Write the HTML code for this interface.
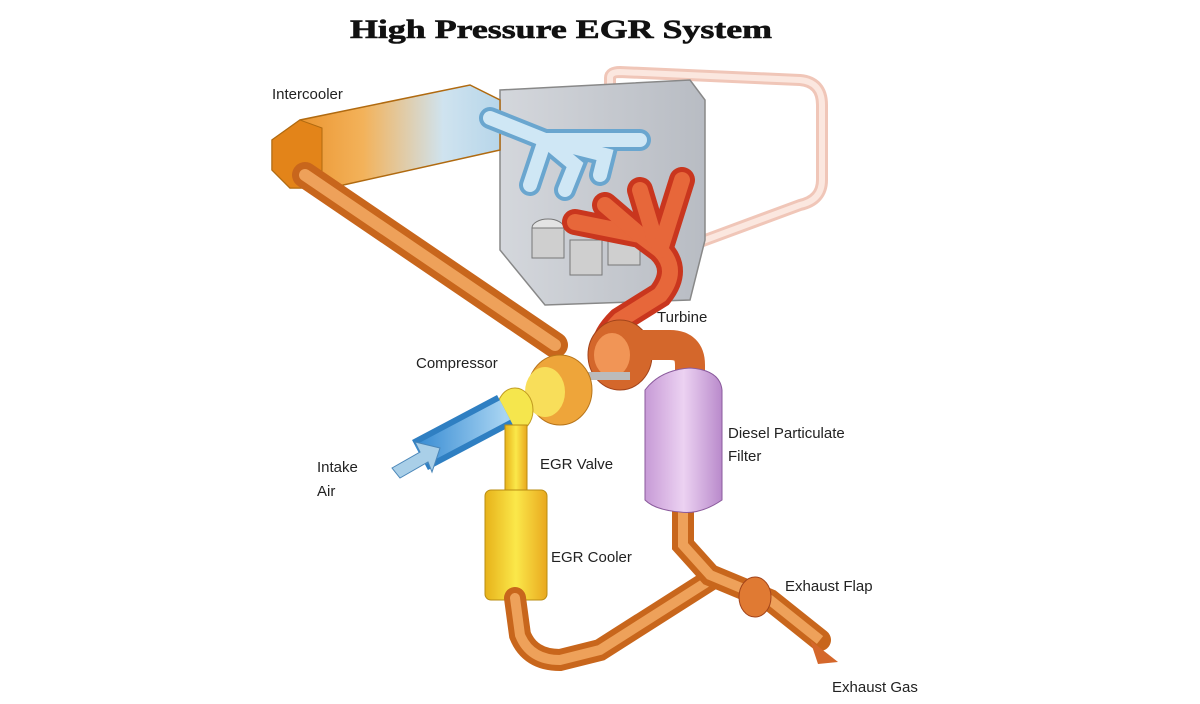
<!DOCTYPE html>
<html><head><meta charset="utf-8"><style>
html,body{margin:0;padding:0;background:#fff;}
svg{display:block}
.l{font-family:"Liberation Sans",sans-serif;font-size:15px;fill:#222}
</style></head><body>
<svg width="1200" height="704" viewBox="0 0 1200 704" xmlns="http://www.w3.org/2000/svg">
<defs>
<linearGradient id="ic" x1="0" x2="1" y1="0" y2="0">
<stop offset="0" stop-color="#e8891f"/><stop offset="0.4" stop-color="#f3b25a"/><stop offset="0.75" stop-color="#cfe3ef"/><stop offset="1" stop-color="#b7d6ea"/></linearGradient>
<linearGradient id="eng" x1="0" x2="1"><stop offset="0" stop-color="#d4d7dc"/><stop offset="1" stop-color="#b8bcc3"/></linearGradient>
<linearGradient id="yel" x1="0" x2="1"><stop offset="0" stop-color="#e7b21a"/><stop offset="0.5" stop-color="#fbe84a"/><stop offset="1" stop-color="#e9a81e"/></linearGradient>
<linearGradient id="dpf" x1="0" x2="1"><stop offset="0" stop-color="#c79ad6"/><stop offset="0.5" stop-color="#ecd2f2"/><stop offset="1" stop-color="#b98acb"/></linearGradient>
<linearGradient id="blu" x1="0" x2="1"><stop offset="0" stop-color="#3b8ed4"/><stop offset="1" stop-color="#a8d4f2"/></linearGradient>
</defs>
<rect width="1200" height="704" fill="#fff"/>
<text x="350" y="38" textLength="422" lengthAdjust="spacingAndGlyphs" font-family="Liberation Serif,serif" font-weight="900" font-size="26" fill="#111" stroke="#111" stroke-width="0.6">High Pressure EGR System</text>

<!-- pink EGR loop -->
<path d="M610 88 L610 78 Q610 72 620 72 L800 80 Q822 82 822 105 L822 180 Q822 200 800 205 L700 242" fill="none" stroke="#f0c6b8" stroke-width="12" stroke-linecap="round"/>
<path d="M610 88 L610 78 Q610 72 620 72 L800 80 Q822 82 822 105 L822 180 Q822 200 800 205 L700 242" fill="none" stroke="#fbe7df" stroke-width="6"/>

<!-- engine block -->
<path d="M500 90 L690 80 L705 100 L705 240 L690 300 L545 305 L500 250 Z" fill="url(#eng)" stroke="#888" stroke-width="1.5"/>
<ellipse cx="548" cy="228" rx="16" ry="9" fill="#e3e3e3" stroke="#777"/>
<rect x="532" y="228" width="32" height="30" fill="#cfcfcf" stroke="#777"/>
<rect x="570" y="240" width="32" height="35" fill="#cfcfcf" stroke="#777"/>
<rect x="608" y="230" width="32" height="35" fill="#cfcfcf" stroke="#777"/>

<!-- intercooler -->
<path d="M272 140 L300 120 L470 85 L500 100 L500 150 L330 188 L290 188 L272 170 Z" fill="url(#ic)" stroke="#b06a10" stroke-width="1.5"/>
<path d="M272 140 L300 120 L322 128 L322 188 L290 188 L272 170 Z" fill="#e38419" stroke="#b06a10"/>
<!-- intake manifold blue -->
<g stroke="#6aa6cf" stroke-width="22" fill="none" stroke-linecap="round">
<path d="M490 118 L545 140 L530 185"/>
<path d="M545 140 L575 165 L565 190"/>
<path d="M545 140 L605 155 L600 175"/>
<path d="M545 140 L640 140"/>
</g>
<g stroke="#cfe7f5" stroke-width="14" fill="none" stroke-linecap="round">
<path d="M490 118 L545 140 L530 185"/>
<path d="M545 140 L575 165 L565 190"/>
<path d="M545 140 L605 155 L600 175"/>
<path d="M545 140 L640 140"/>
</g>

<!-- exhaust manifold red -->
<g stroke="#c9361e" stroke-width="26" fill="none" stroke-linecap="round">
<path d="M575 222 L640 235 L660 250 Q680 270 660 295 L620 320 Q605 335 605 345"/>
<path d="M605 205 L640 235"/><path d="M640 190 L655 240"/><path d="M682 180 L660 250"/>
</g>
<g stroke="#e7673a" stroke-width="16" fill="none" stroke-linecap="round">
<path d="M575 222 L640 235 L660 250 Q680 270 660 295 L620 320 Q605 335 605 345"/>
<path d="M605 205 L640 235"/><path d="M640 190 L655 240"/><path d="M682 180 L660 250"/>
</g>

<!-- intercooler to compressor pipe -->
<path d="M305 175 L555 345" stroke="#c8661c" stroke-width="26" stroke-linecap="round" fill="none"/>
<path d="M305 175 L555 345" stroke="#eea15a" stroke-width="12" stroke-linecap="round" fill="none"/>

<!-- turbine -->
<ellipse cx="620" cy="355" rx="32" ry="35" fill="#d4672b" stroke="#a2431a"/>
<ellipse cx="612" cy="355" rx="18" ry="22" fill="#f19556"/>
<path d="M640 345 L670 345 Q690 345 690 365 L690 385" stroke="#d4672b" stroke-width="30" fill="none"/>
<rect x="585" y="372" width="45" height="8" fill="#bbb"/>

<!-- compressor -->
<ellipse cx="560" cy="390" rx="32" ry="35" fill="#eea53a" stroke="#b8751a"/>
<ellipse cx="545" cy="392" rx="20" ry="25" fill="#f8de5a"/>
<ellipse cx="515" cy="410" rx="18" ry="22" fill="#f5e64d" stroke="#c09a20"/>

<!-- intake air pipe -->
<path d="M420 455 L505 410" stroke="#2f7fc2" stroke-width="34" fill="none"/>
<path d="M420 455 L505 410" stroke="url(#blu)" stroke-width="22" fill="none"/>
<path d="M392 468 L420 452 L415 442 L440 448 L432 472 L428 462 L400 478 Z" fill="#a9cfe8" stroke="#4a86b8"/>

<!-- EGR valve pipe -->
<rect x="505" y="425" width="22" height="80" fill="url(#yel)" stroke="#b98c12"/>
<rect x="485" y="490" width="62" height="110" rx="6" fill="url(#yel)" stroke="#b98c12"/>
<path d="M515 598 L520 635 Q530 660 560 660 L600 650 L710 580" stroke="#c8661c" stroke-width="22" fill="none" stroke-linecap="round"/>
<path d="M515 598 L520 635 Q530 660 560 660 L600 650 L710 580" stroke="#eea15a" stroke-width="10" fill="none" stroke-linecap="round"/>

<!-- DPF exhaust pipe -->
<path d="M683 500 L683 545 L710 575 L770 600 L820 640" stroke="#c8661c" stroke-width="22" fill="none" stroke-linecap="round"/>
<path d="M683 500 L683 545 L710 575 L770 600 L820 640" stroke="#eea15a" stroke-width="10" fill="none"/>
<ellipse cx="755" cy="597" rx="16" ry="20" fill="#e07a33" stroke="#a2431a"/>
<path d="M810 640 L838 662 L818 664 Z" fill="#d4672b"/>

<path d="M645 390 Q660 370 690 368 Q720 370 722 390 L722 500 Q700 515 680 512 Q655 510 645 500 Z" fill="url(#dpf)" stroke="#8a5a9c"/>

<text class="l" x="272" y="99">Intercooler</text>
<text class="l" x="657" y="322">Turbine</text>
<text class="l" x="416" y="368">Compressor</text>
<text class="l" x="317" y="472">Intake</text>
<text class="l" x="317" y="496">Air</text>
<text class="l" x="540" y="469">EGR Valve</text>
<text class="l" x="728" y="438">Diesel Particulate</text>
<text class="l" x="728" y="461">Filter</text>
<text class="l" x="551" y="562">EGR Cooler</text>
<text class="l" x="785" y="591">Exhaust Flap</text>
<text class="l" x="832" y="692">Exhaust Gas</text>
</svg>
</body></html>
